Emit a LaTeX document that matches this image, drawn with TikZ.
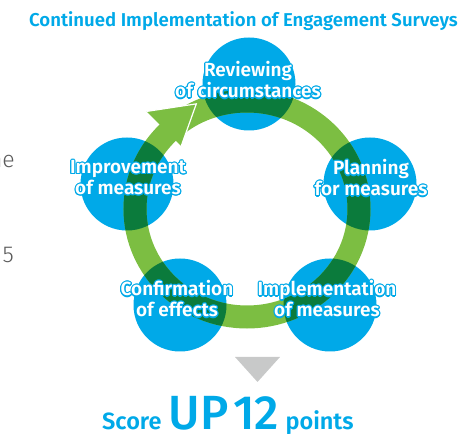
\documentclass[tikz,border=0pt]{standalone}
\usepackage{fontspec}
\setmainfont{Fira Sans}
\IfFontExistsTF{Fira Sans SemiBold}{\newfontfamily\fsemi{Fira Sans SemiBold}}{\newcommand\fsemi{\bfseries}}
\IfFontExistsTF{Fira Sans Medium}{\newfontfamily\fmedium{Fira Sans Medium}}{\newcommand\fmedium{\bfseries}}
\IfFontExistsTF{Fira Sans Light}{\newfontfamily\flight{Fira Sans Light}}{\newcommand\flight{}}
\usepackage{contour}
\contourlength{1.1pt}
\usetikzlibrary{positioning,calc}
\definecolor{circblue}{RGB}{0,169,232}
\definecolor{ringgreen}{RGB}{124,190,66}
\definecolor{ringdark}{RGB}{11,123,60}
\definecolor{pointgray}{RGB}{200,201,201}
\definecolor{fraggray}{RGB}{90,90,90}

\begin{document}
\begin{tikzpicture}[x=1pt, y=1pt,
	stepcircle/.style={circle, fill=circblue, minimum size=93pt, inner sep=0pt},
	steplabel/.style={text=white, align=center, inner sep=0pt, font=\fsemi\fontsize{19}{21}\selectfont},
	ring/.style={line width=23pt, draw=ringgreen},
	score/.style={text=circblue, inner sep=0pt},
	frag/.style={text=fraggray, inner sep=0pt, font=\flight\fontsize{23}{23}\selectfont}]
	\clip (0,0) rectangle (459,434);
	\node[score, font=\fsemi\fontsize{18.6}{18.6}\selectfont, anchor=base] (title) at (243.5,407) {Continued Implementation of Engagement Surveys};
	% left margin fragments
	\node[frag, anchor=base east] (fragne) at (15,266) {ne};
	\node[frag, anchor=base east] (fragfive) at (14,171) {5};
	% the five steps
	\node[stepcircle] (review) at (249,350) {};
	\node[stepcircle] (plan) at (370,250) {};
	\node[stepcircle] (impl) at (330,129) {};
	\node[stepcircle] (confirm) at (180,129) {};
	\node[stepcircle] (improve) at (127,250) {};
	% cycle ring
	\coordinate (ringc) at (247,225);
	\draw[ring] (ringc) ellipse [x radius=112, y radius=108];
	\begin{scope}
		\clip (review) circle [radius=46.5] (plan) circle [radius=46.5] (impl) circle [radius=46.5]
			(confirm) circle [radius=46.5] (improve) circle [radius=46.5];
		\draw[ring, draw=ringdark] (ringc) ellipse [x radius=112, y radius=108];
	\end{scope}
	\coordinate (atip) at ($(ringc)+(115:120 and 116)$);
	\coordinate (aout) at ($(ringc)+(135:142 and 138)$);
	\coordinate (ain) at ($(ringc)+(135:93 and 89)$);
	\fill[ringgreen] (aout) -- (atip) -- (ain) -- cycle;
	\draw[white, line width=1.2pt, line join=miter] (aout) -- (atip) -- (ain);
	% labels
	\node[steplabel] (reviewlab) at (248,353.5) {\contour{circblue}{Reviewing}\\\contour{circblue}{of circumstances}};
	\node[steplabel] (planlab) at (371,255.5) {\contour{circblue}{Planning}\\\contour{circblue}{for measures}};
	\node[steplabel] (impllab) at (327,134.5) {\contour{circblue}{Implementation}\\\contour{circblue}{of measures}};
	\node[steplabel] (confirmlab) at (177,134.5) {\contour{circblue}{Confirmation}\\\contour{circblue}{of effects}};
	\node[steplabel] (improvelab) at (128,255.5) {\contour{circblue}{Improvement}\\\contour{circblue}{of measures}};
	% result
	\fill[pointgray] (235,77) -- (280,77) -- (257.5,52) -- cycle;
	\node[score, font=\fsemi\fontsize{23.5}{23.5}\selectfont, anchor=base west] (scorew) at (102,4) {Score};
	\node[score, font=\fmedium\fontsize{48}{48}\selectfont, base right=7pt of scorew] (up) {UP};
	\node[score, font=\fmedium\fontsize{48}{48}\selectfont, base right=4pt of up] (twelve) {12};
	\node[score, font=\fsemi\fontsize{23.5}{23.5}\selectfont, base right=6pt of twelve] (points) {points};
\end{tikzpicture}
\end{document}
